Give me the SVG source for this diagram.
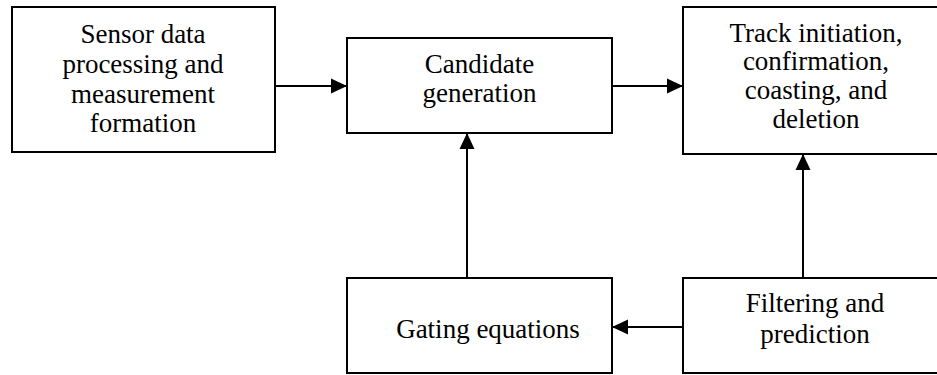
<svg xmlns="http://www.w3.org/2000/svg" width="937" height="375" viewBox="0 0 937 375">
<style>
.box{fill:#fff;stroke:#000;stroke-width:2}
.t{font-family:'Liberation Serif','DejaVu Serif','Times New Roman',serif;font-size:27px;fill:#000;text-anchor:middle}
.c{stroke:#000;stroke-width:2;fill:none;marker-end:url(#ah)}
</style>
<defs>
<marker id="ah" markerWidth="16" markerHeight="16" refX="16" refY="8" orient="auto" markerUnits="userSpaceOnUse">
<path d="M0,0.5 L16,8 L0,15.5 Z" fill="#000"/>
</marker>
</defs>
<rect width="937" height="375" fill="#fff"/>
<g id="connectors">
<line class="c" x1="275" y1="86" x2="347" y2="86"/>
<line class="c" x1="612" y1="86" x2="683" y2="86"/>
<line class="c" x1="467" y1="278" x2="467" y2="133"/>
<line class="c" x1="803" y1="278" x2="803" y2="154"/>
<line class="c" x1="683" y1="327" x2="612" y2="327"/>
</g>
<g id="sensor">
<rect class="box" x="12" y="7" width="263" height="145"/>
<text class="t" x="143" y="43">Sensor data</text>
<text class="t" x="143" y="73">processing and</text>
<text class="t" x="143" y="103">measurement</text>
<text class="t" x="143" y="132">formation</text>
</g>
<g id="candidate">
<rect class="box" x="347" y="38" width="265" height="95"/>
<text class="t" x="479.5" y="73">Candidate</text>
<text class="t" x="479.5" y="102">generation</text>
</g>
<g id="track">
<rect class="box" x="683" y="7" width="265" height="147"/>
<text class="t" x="816" y="42">Track initiation,</text>
<text class="t" x="816" y="70">confirmation,</text>
<text class="t" x="816" y="99">coasting, and</text>
<text class="t" x="816" y="128">deletion</text>
</g>
<g id="gating">
<rect class="box" x="347" y="278" width="265" height="95"/>
<text class="t" x="488" y="338">Gating equations</text>
</g>
<g id="filtering">
<rect class="box" x="683" y="278" width="265" height="95"/>
<text class="t" x="815" y="312">Filtering and</text>
<text class="t" x="815" y="343">prediction</text>
</g>
</svg>
